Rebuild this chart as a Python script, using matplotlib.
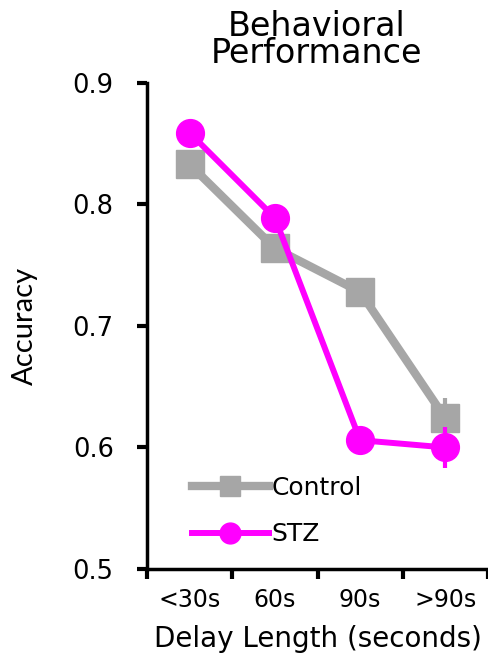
import numpy as np
import matplotlib.pyplot as plt
from matplotlib.lines import Line2D

delays = ["<30s", "60s", "90s", ">90s"]
control = [0.833, 0.764, 0.728, 0.624]
control_err = [0.005, 0.006, 0.005, 0.017]
stz = [0.859, 0.789, 0.606, 0.600]
stz_err = [0.006, 0.007, 0.006, 0.017]

gray = '#A6A6A6'
magenta = '#FF00FF'

plt.rcParams['font.family'] = ['DejaVu Sans']

fig = plt.figure(figsize=(4.89, 6.58), dpi=100)
ax = fig.add_axes([0.3006, 0.1353, 0.6974, 0.7386])

x = np.arange(len(delays))
ax.errorbar(x, control, yerr=control_err, color=gray, lw=6, marker='s',
            ms=20, elinewidth=3, capsize=0, zorder=2)
ax.errorbar(x, stz, yerr=stz_err, color=magenta, lw=4.3, marker='o',
            ms=20, elinewidth=3, capsize=0, zorder=3)

ax.set_xlim(-0.5, 3.5)
ax.set_ylim(0.5, 0.9)
ax.set_yticks([0.5, 0.6, 0.7, 0.8, 0.9])
ax.set_yticklabels(['0.5', '0.6', '0.7', '0.8', '0.9'])
ax.set_xticks(x)
ax.set_xticklabels(delays)
ax.set_xticks(np.arange(-0.5, 4.0, 1.0), minor=True)
ax.tick_params(axis='x', which='major', length=0, labelsize=17, pad=14)
ax.tick_params(axis='x', which='minor', length=7, width=3, direction='out')
ax.tick_params(axis='y', length=7, width=3, direction='out', labelsize=18.5, pad=17)

for s in ['top', 'right']:
    ax.spines[s].set_visible(False)
for s in ['left', 'bottom']:
    ax.spines[s].set_linewidth(2.5)

ax.set_xlabel('Delay Length (seconds)', fontsize=20, labelpad=9)
ax.set_ylabel('Accuracy', fontsize=21, family=['Lato', 'DejaVu Sans'], labelpad=25)
fig.text(0.648, 0.985, 'Behavioral\nPerformance', ha='center', va='top',
         fontsize=24, linespacing=0.78)

handles = [
    Line2D([], [], color=gray, lw=6, marker='s', ms=15),
    Line2D([], [], color=magenta, lw=4.3, marker='o', ms=15),
]
ax.legend(handles, ['Control', 'STZ'], loc='lower left', bbox_to_anchor=(0.065, 0.0),
          frameon=False, fontsize=18, handlelength=3.1, handletextpad=0.1,
          labelspacing=0.9)

fig.savefig('out.png', dpi=100)
